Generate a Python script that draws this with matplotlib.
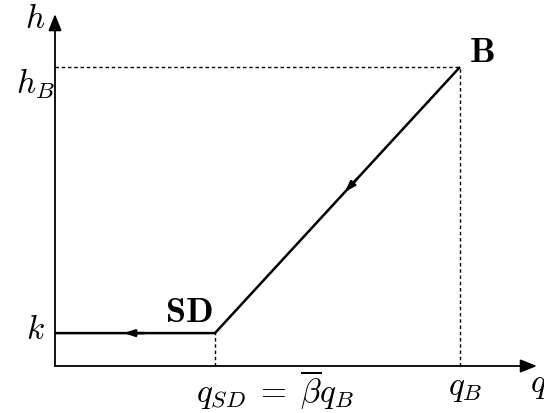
import numpy as np
import matplotlib
matplotlib.use("Agg")
import matplotlib.pyplot as plt

plt.rcParams['mathtext.fontset'] = 'cm'
plt.rcParams['font.family'] = 'serif'
plt.rcParams['font.serif'] = ['DejaVu Serif']

# path of the operating point (q, h): from B down to SD, then along h = k
q_B = 1.0
h_B = 1.0
beta_bar = 0.395
q_SD = beta_bar * q_B
k = 0.11
path_q = [q_B, q_SD, 0.0]
path_h = [h_B, k, k]

# axis extents (arrow tips)
q_max = 1.19
h_max = 1.177

fig = plt.figure(figsize=(5.44, 4.13), dpi=100)
ax = fig.add_axes([55 / 544, 47 / 413, 405 / 544, 299 / 413])
ax.set_xlim(0, 1)
ax.set_ylim(0, 1)
ax.axis('off')

# axes with arrow heads
axis_kw = dict(arrowstyle='-|>,head_length=1.0,head_width=0.4', color='black',
               lw=1.3, shrinkA=0, shrinkB=0)
ax.annotate('', xy=(q_max, 0), xytext=(0, 0), arrowprops=axis_kw, annotation_clip=False)
ax.annotate('', xy=(0, h_max), xytext=(0, 0), arrowprops=axis_kw, annotation_clip=False)

# guide lines
guide = dict(color='black', lw=1.0, ls=(0, (2.5, 2)), clip_on=False)
ax.plot([0, q_B], [h_B, h_B], **guide)
ax.plot([q_B, q_B], [0, h_B], **guide)
ax.plot([q_SD, q_SD], [0, k], **guide)

# operating path
ax.plot(path_q, path_h, color='black', lw=1.8, solid_capstyle='butt', clip_on=False)

# direction arrows on the path
mid_kw = dict(arrowstyle='-|>,head_length=0.6,head_width=0.2', color='black',
              lw=1.8, shrinkA=0, shrinkB=0)
t = 0.47
p1 = (q_B + t * (q_SD - q_B), h_B + t * (k - h_B))
p0 = (q_B + (t - 0.05) * (q_SD - q_B), h_B + (t - 0.05) * (k - h_B))
ax.annotate('', xy=p1, xytext=p0, arrowprops=mid_kw)
ax.annotate('', xy=(0.17, k), xytext=(0.22, k), arrowprops=mid_kw)

# labels
fs = 24
ax.text(-0.049, 1.16, r'$h$', fontsize=fs, ha='center', va='center')
ax.text(-0.049, 0.945, r'$h_B$', fontsize=fs, ha='center', va='center')
ax.text(-0.049, 0.12, r'$k$', fontsize=fs, ha='center', va='center')
ax.text(1.172, -0.065, r'$q$', fontsize=fs, ha='left', va='center')
ax.text(0.543, -0.08, r'$q_{SD} \;=\; \overline{\beta} q_B$', fontsize=fs,
        ha='center', va='center')
ax.text(1.012, -0.073, r'$q_B$', fontsize=fs, ha='center', va='center')
ax.text(1.054, 1.05, r'$\mathbf{B}$', fontsize=fs + 2, ha='center', va='center')
ax.text(0.331, 0.18, r'$\mathbf{SD}$', fontsize=fs + 2, ha='center', va='center')

fig.savefig('out.png', dpi=100)
